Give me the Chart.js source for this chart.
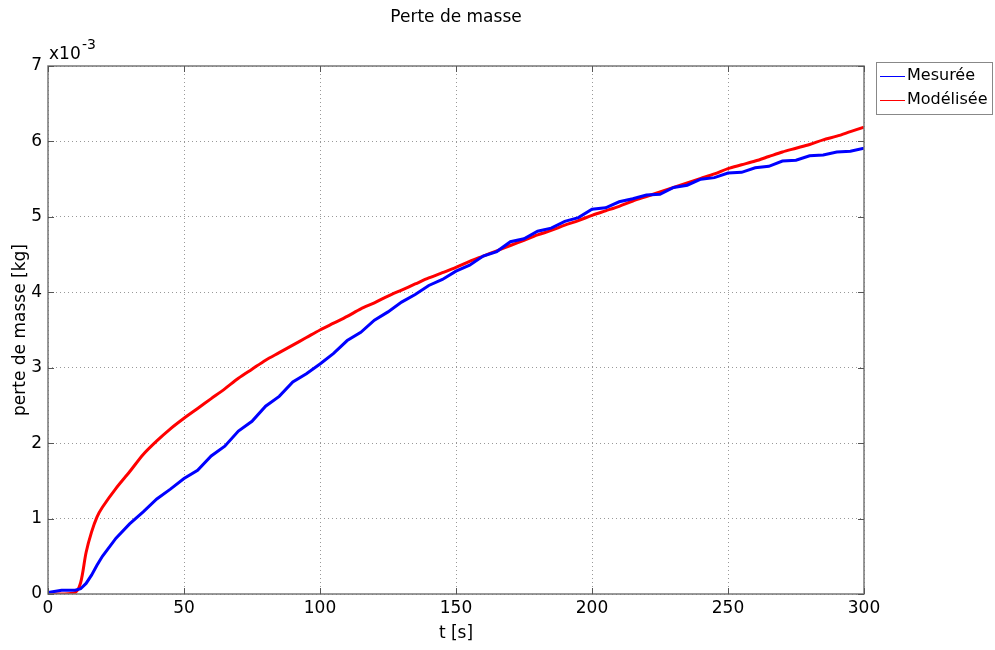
<!DOCTYPE html>
<html>
<head>
<meta charset="utf-8">
<script src="https://cdn.jsdelivr.net/npm/chart.js@4/dist/chart.umd.min.js"></script>
<style>
  html, body { margin: 0; padding: 0; background: #fff; }
  #wrap { width: 995px; height: 650px; }
</style>
</head>
<body>
<div id="wrap"><canvas id="massChart" width="995" height="650"></canvas></div>
<script>
// time axis [s] and mass loss values [x10^-3 kg]
const times = [0, 5, 10, 12, 14, 16, 18, 20, 25, 30, 35, 40, 45, 50, 55, 60, 65, 70, 75, 80, 85, 90, 95,
  100, 105, 110, 115, 120, 125, 130, 135, 140, 145, 150, 155, 160, 165, 170, 175, 180, 185, 190, 195,
  200, 205, 210, 215, 220, 225, 230, 235, 240, 245, 250, 255, 260, 265, 270, 275, 280, 285, 290, 295, 300];
const measured = [0.02, 0.05, 0.05, 0.07, 0.14, 0.25, 0.38, 0.50, 0.74, 0.93, 1.09, 1.26, 1.39, 1.53, 1.64, 1.83, 1.96, 2.16, 2.29, 2.49, 2.62, 2.81, 2.92,
  3.05, 3.19, 3.36, 3.47, 3.63, 3.74, 3.87, 3.97, 4.09, 4.17, 4.28, 4.36, 4.48, 4.54, 4.67, 4.71, 4.81, 4.85, 4.94, 4.99,
  5.10, 5.12, 5.20, 5.24, 5.29, 5.30, 5.39, 5.42, 5.50, 5.52, 5.58, 5.59, 5.65, 5.67, 5.74, 5.75, 5.81, 5.82, 5.86, 5.87, 5.91];
const modelled = [0.0, 0.0, 0.02, 0.15, 0.55, 0.82, 1.02, 1.15, 1.40, 1.62, 1.85, 2.03, 2.19, 2.33, 2.46, 2.59, 2.72, 2.86, 2.98, 3.10, 3.20, 3.30, 3.40,
  3.50, 3.59, 3.68, 3.78, 3.86, 3.95, 4.03, 4.11, 4.19, 4.26, 4.33, 4.41, 4.48, 4.55, 4.62, 4.69, 4.76, 4.82, 4.89, 4.95,
  5.02, 5.08, 5.14, 5.21, 5.27, 5.33, 5.39, 5.45, 5.51, 5.57, 5.64, 5.69, 5.74, 5.80, 5.86, 5.91, 5.96, 6.02, 6.07, 6.13, 6.19];
const seriesNames = ['Mesurée', 'Modélisée'];
const seriesColors = ['#0000ff', '#ff0000'];
const xTicks = [0, 50, 100, 150, 200, 250, 300];
const yTicks = [0, 1, 2, 3, 4, 5, 6, 7];

const FONT = '"DejaVu Sans", Verdana, sans-serif';

// title, exponent label, legend box, frame and inner tick marks
const decorations = {
  id: 'decorations',
  afterDraw(chart) {
    const { ctx, chartArea: a, scales } = chart;
    ctx.save();
    ctx.fillStyle = '#000';
    ctx.textBaseline = 'middle';
    ctx.textAlign = 'center';
    ctx.font = '17px ' + FONT;
    ctx.fillText('Perte de masse', (a.left + a.right) / 2, 18);

    ctx.textAlign = 'left';
    ctx.font = '17px ' + FONT;
    ctx.fillText('x10', a.left + 1, 55);
    ctx.font = '14px ' + FONT;
    ctx.fillText('-3', a.left + 34, 45);

    // frame
    ctx.strokeStyle = '#777';
    ctx.lineWidth = 1.5;
    ctx.strokeRect(a.left, a.top, a.right - a.left, a.bottom - a.top);

    // inner ticks
    ctx.lineWidth = 1;
    ctx.strokeStyle = '#555';
    ctx.beginPath();
    xTicks.forEach(v => {
      const x = Math.round(scales.x.getPixelForValue(v)) + 0.5;
      ctx.moveTo(x, a.bottom); ctx.lineTo(x, a.bottom - 6);
      ctx.moveTo(x, a.top); ctx.lineTo(x, a.top + 6);
    });
    yTicks.forEach(v => {
      const y = Math.round(scales.y.getPixelForValue(v)) + 0.5;
      ctx.moveTo(a.left, y); ctx.lineTo(a.left + 6, y);
      ctx.moveTo(a.right, y); ctx.lineTo(a.right - 6, y);
    });
    ctx.stroke();

    // legend
    const lx = 876, ly = 62, lw = 116, lh = 52;
    ctx.strokeStyle = '#888';
    ctx.lineWidth = 1;
    ctx.strokeRect(lx + 0.5, ly + 0.5, lw, lh);
    ctx.font = '16px ' + FONT;
    seriesNames.forEach((name, i) => {
      const y = ly + 14 + i * 24;
      ctx.strokeStyle = seriesColors[i];
      ctx.beginPath();
      ctx.moveTo(lx + 4, y + 0.5); ctx.lineTo(lx + 29, y + 0.5);
      ctx.stroke();
      ctx.fillStyle = '#000';
      ctx.fillText(name, lx + 31, y);
    });
    ctx.restore();
  }
};

const mkData = vals => times.map((t, i) => ({ x: t, y: vals[i] }));

new Chart(document.getElementById('massChart'), {
  type: 'line',
  data: {
    datasets: [
      { label: seriesNames[0], data: mkData(measured), borderColor: seriesColors[0], borderWidth: 3, pointRadius: 0, tension: 0 },
      { label: seriesNames[1], data: mkData(modelled), borderColor: seriesColors[1], borderWidth: 3, pointRadius: 0, tension: 0.3 }
    ]
  },
  options: {
    responsive: false,
    animation: false,
    layout: { padding: { top: 66, right: 131, left: 0, bottom: 0 } },
    plugins: { legend: { display: false }, title: { display: false }, tooltip: { enabled: false } },
    scales: {
      x: {
        type: 'linear', min: 0, max: 300,
        afterBuildTicks: s => { s.ticks = xTicks.map(v => ({ value: v })); },
        afterFit: s => { s.height = 56; },
        grid: { color: '#999', drawTicks: false, lineWidth: 1 },
        border: { display: false, dash: [1, 3] },
        ticks: { color: '#000', font: { family: FONT, size: 17 }, padding: 4, maxRotation: 0 },
        title: { display: true, text: 't [s]', color: '#000', font: { family: FONT, size: 17 }, padding: { top: 6, bottom: 6 } }
      },
      y: {
        min: 0, max: 7,
        afterBuildTicks: s => { s.ticks = yTicks.map(v => ({ value: v })); },
        afterFit: s => { s.width = 48; },
        grid: { color: '#999', drawTicks: false, lineWidth: 1 },
        border: { display: false, dash: [1, 3] },
        ticks: { color: '#000', font: { family: FONT, size: 17 }, padding: 6 },
        title: { display: true, text: 'perte de masse [kg]', color: '#000', font: { family: FONT, size: 17 }, padding: { top: 10, bottom: 10 } }
      }
    }
  },
  plugins: [decorations]
});
</script>
</body>
</html>
